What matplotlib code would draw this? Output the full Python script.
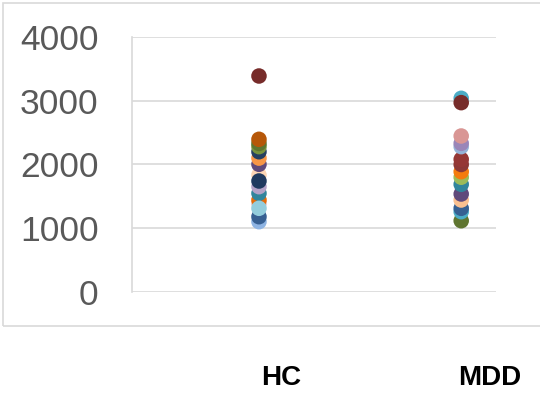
import matplotlib
matplotlib.use('Agg')
import matplotlib.pyplot as plt
from matplotlib.patches import Rectangle

plt.rcParams['font.family'] = ['Liberation Sans', 'DejaVu Sans']

groups = ['HC', 'MDD']
group_x = [1, 2]

hc_values = [1103, 1181, 1391, 1443, 1548, 1652, 1835, 2003, 2100, 2200,
             2280, 2330, 1313, 1741, 2395, 3388]
hc_colors = ['#8EB4E3', '#376092', '#E6B9B8', '#E46C0A', '#31859C', '#B3A2C7',
             '#FCD5B5', '#604A7B', '#F79646', '#254061', '#77933C', '#5F7530',
             '#93CDDD', '#1F3A5F', '#B65708', '#772C2A']

mdd_values = [1118, 1260, 1313, 1443, 1537, 1689, 1800, 1887, 2000, 2081,
              2280, 2332, 2447, 3038, 2970]
mdd_colors = ['#5F7530', '#4BACC6', '#376092', '#FAC090', '#604A7B', '#31859C',
              '#9BBB59', '#F47B0E', '#8C3836', '#953735', '#95B3D7', '#9A86B8',
              '#D99694', '#4BACC6', '#772C2A']

yticks = [0, 1000, 2000, 3000, 4000]

fig = plt.figure(figsize=(5.4, 3.93), dpi=100)
ax = fig.add_axes([0.2444, 0.257, 0.6741, 0.6489])

# outer chart border
fig.patches.append(Rectangle((3/540, 67/393), 1.0, 323/393, transform=fig.transFigure,
                             fill=False, edgecolor='#D9D9D9', linewidth=1.2))

for v, c in zip(hc_values, hc_colors):
    ax.scatter([group_x[0]], [v], s=125, color=c, edgecolors='none', zorder=3)
for v, c in zip(mdd_values, mdd_colors):
    ax.scatter([group_x[1]], [v], s=125, color=c, edgecolors='none', zorder=3)

ax.set_xlim(0.372, 2.172)
ax.set_ylim(0, 4000)
ax.set_yticks(yticks)
ax.set_yticklabels([str(t) for t in yticks], fontsize=25.5, color='#595959')
ax.tick_params(axis='y', length=0, pad=24)
ax.set_xticks([])
ax.yaxis.grid(True, color='#D9D9D9', linewidth=1.2)
ax.set_axisbelow(True)
for s in ['top', 'right']:
    ax.spines[s].set_visible(False)
ax.spines['bottom'].set_visible(False)
ax.spines['left'].set_color('#D9D9D9')
ax.spines['left'].set_linewidth(1.2)

# group labels sit below the chart box
fig.text(281/540, 1 - 378/393, groups[0], ha='center', va='center',
         fontsize=20, fontweight='bold', color='black')
fig.text(490/540, 1 - 378/393, groups[1], ha='center', va='center',
         fontsize=20, fontweight='bold', color='black')

fig.savefig('out.png', dpi=100)
